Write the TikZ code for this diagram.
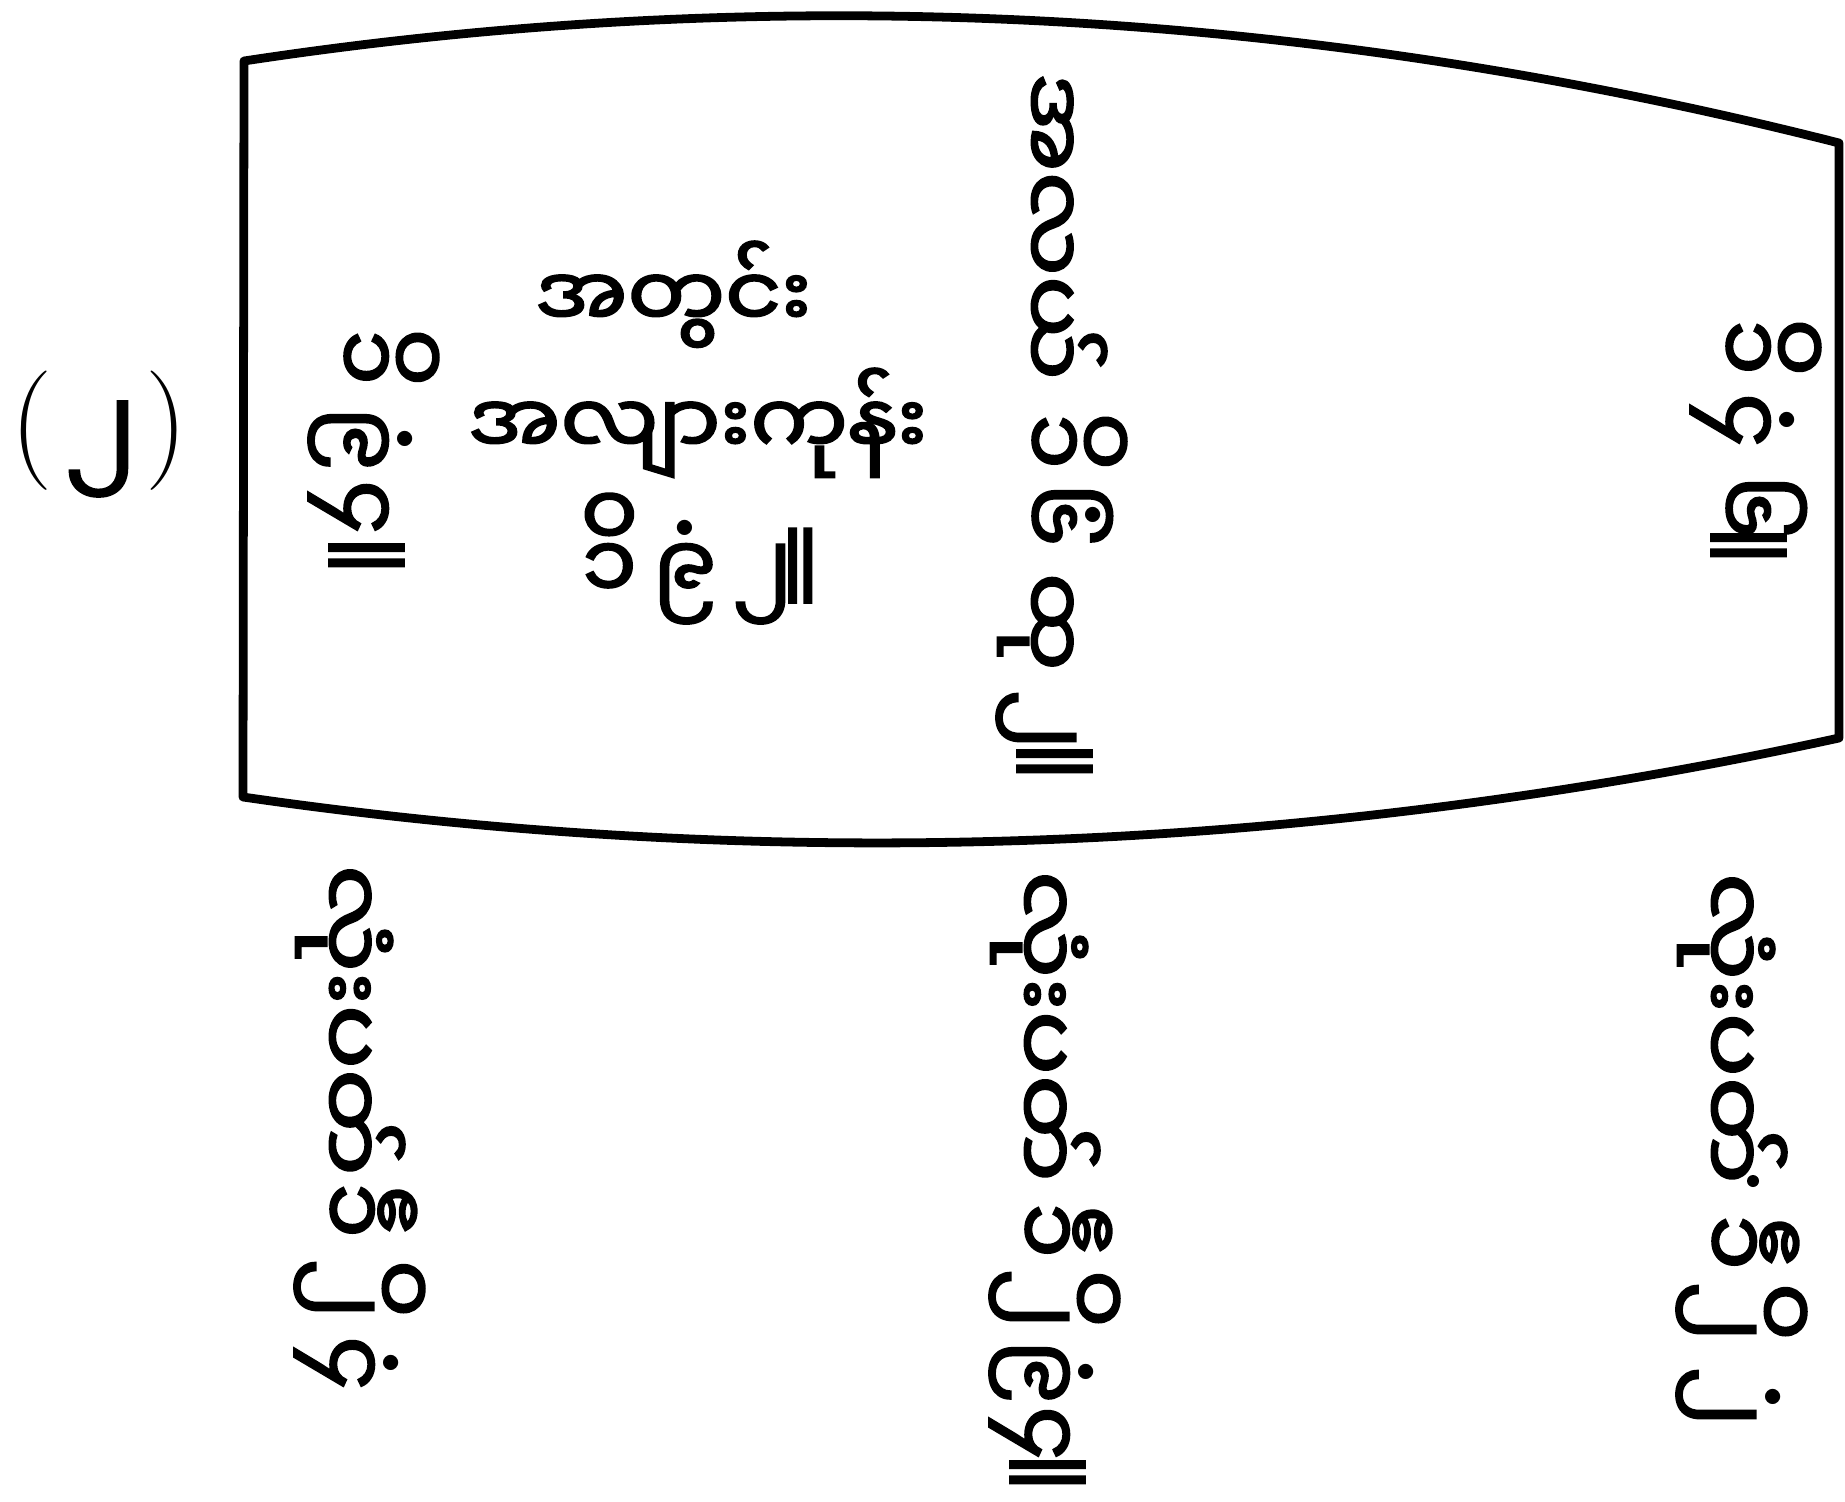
\documentclass[tikz,border=0pt]{standalone}
\usepackage{fontspec}
\newfontfamily\my[Script=Myanmar, FakeBold=2.5]{Noto Sans Myanmar UI}
\newcommand\dgm[3][31pt]{\ooalign{#2\cr\hidewidth\raisebox{#1}{#3}\hidewidth\cr}}
\newcommand\dg[1]{{\fontsize{50}{56}\selectfont #1}}
\newcommand\wrd[2][1.05]{\scalebox{#1}[1]{#2}}
\newcommand\ring{{\fontsize{48}{48}\selectfont ဝ}}
\newcommand\dotm{{\rmfamily\bfseries\fontsize{60}{60}\selectfont .}}
\newcommand\emk{{\fontsize{44}{44}\selectfont ဧ}}
\newcommand\sect{{\fontsize{41}{50}\selectfont\raisebox{-14pt}{\scalebox{1.1}[2.1]{။}}}}
\newcommand\rg[1]{\dg{\dgm[30pt]{#1}{\ring}}}
\newcommand\dt[1]{\dg{\dgm[37pt]{#1}{\dotm}}}
\newcommand\km[1]{\dg{\dgm[28pt]{#1}{\emk}}}
\tikzset{
  my/.style={font=\my\fontsize{47}{56}\selectfont, inner sep=0pt, outer sep=0pt, anchor=base west},
  rot/.style={my, rotate=-90},
  outline/.style={line width=5pt, line join=round}
}
\begin{document}
\begin{tikzpicture}[x=0.02cm,y=-0.02cm]
\useasboundingbox (0,0) rectangle (1845,1501);
% outline
\draw[outline] (244,61) .. controls (776,-20) and (1308,8) .. (1839,143)
  -- (1839,738) .. controls (1306,854) and (774,874) .. (243,797) -- cycle;
% figure number
\node[font=\fontsize{68}{70}\selectfont, inner sep=0pt, anchor=base] (fa) at (32,460) {(};
\node[font=\my\fontsize{60}{64}\selectfont, inner sep=0pt] (fb) at (101,449) {၂};
\node[font=\fontsize{68}{70}\selectfont, inner sep=0pt, anchor=base] (fc) at (167,460) {)};
% centre block
\node[my] (c1) at (535,328) {\wrd{အတွင်း}};
\node[my] (c2) at (468,455) {\wrd{အလျားကုန်း}};
\node[my] (c3a) at (582,600) {\rg{၁}};
\node[my] (c3b) at (653,600) {\dt{၉}};
\node[my] (c3c) at (733,600) {\dg{၂}};
\node[my] (c3d) at (782,600) {\sect};
% left inner column
\node[rot] (l1) at (332,330) {\rg{၁}};
\node[rot] (l2) at (332,407) {\dt{၉}};
\node[rot] (l3) at (332,480) {\dg{၄}};
\node[rot] (l4) at (332,537) {\sect};
% middle column
\node[rot] (m1) at (1020,73) {\wrd[1.12]{အလယ်}};
\node[rot] (m2) at (1020,414) {\rg{၁}};
\node[rot] (m3) at (1020,483) {\dt{၆}};
\node[rot] (m4) at (1020,573) {\wrd{ထု}};
\node[rot] (m5) at (1020,690) {\dg{၂}};
\node[rot] (m6) at (1020,743) {\sect};
% right inner column
\node[rot] (r1) at (1714,320) {\rg{၁}};
\node[rot] (r2) at (1714,393) {\dt{၄}};
\node[rot] (r3) at (1714,475) {\dg{၆}};
\node[rot] (r4) at (1714,527) {\sect};
% bottom left
\node[rot] (bl1) at (318,865) {\wrd[1.15]{လုံးပတ်}};
\node[rot] (bl2) at (318,1183) {\km{၁}};
\node[rot] (bl3) at (318,1259) {\rg{၂}};
\node[rot] (bl4) at (318,1336) {\dt{၄}};
% bottom middle
\node[rot] (bm1) at (1013,871) {\wrd[1.15]{လုံးပတ်}};
\node[rot] (bm2) at (1013,1203) {\km{၁}};
\node[rot] (bm3) at (1013,1269) {\rg{၂}};
\node[rot] (bm4) at (1013,1340) {\dt{၉}};
\node[rot] (bm5) at (1013,1406) {\dg{၄}};
\node[rot] (bm6) at (1013,1454) {\sect};
% bottom right
\node[rot] (br1) at (1700,873) {\wrd[1.15]{လုံးပတ်}};
\fill (1753,1181) circle (6);
\node[rot] (br2) at (1700,1215) {\km{၁}};
\node[rot] (br3) at (1700,1282) {\rg{၂}};
\node[rot] (br4) at (1700,1367) {\dt{၂}};
\end{tikzpicture}
\end{document}
